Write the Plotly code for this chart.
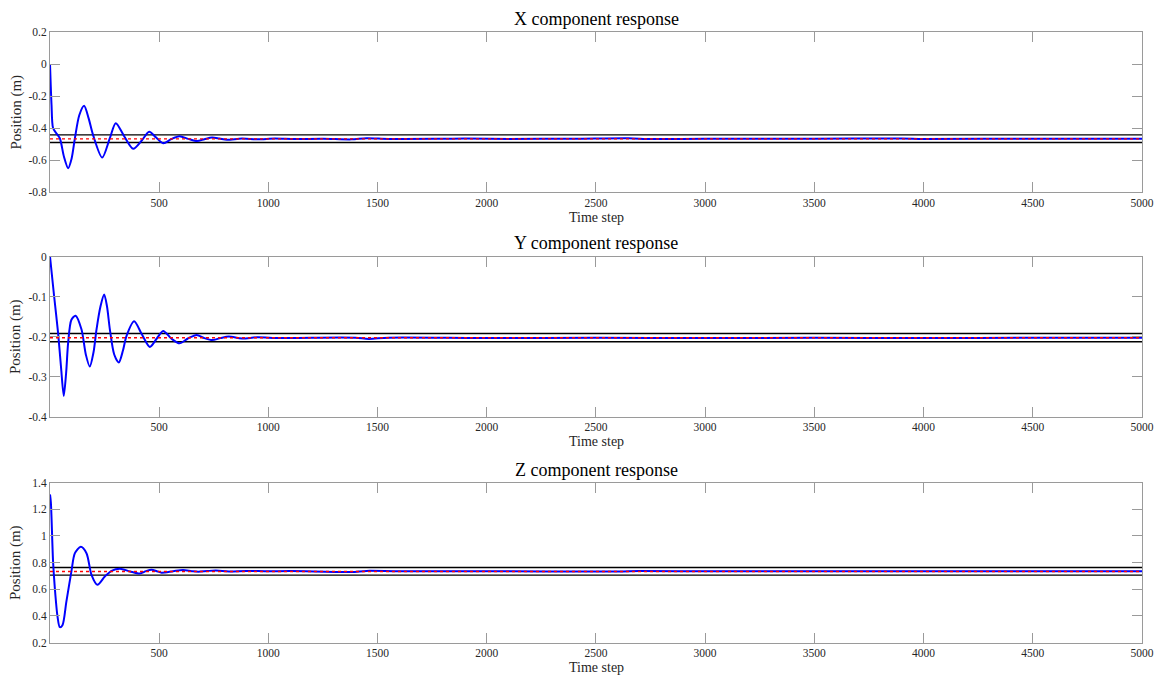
import plotly.graph_objects as go

# ---- response samples (time step, position in metres) ----
steps_x = [1, 4, 8, 15, 30, 46, 65, 84, 100, 115, 135, 157, 178, 198, 240, 275, 302, 340,
           382, 420, 455, 487, 519, 556, 593, 634, 674, 708, 743, 777, 811, 880, 950, 1030,
           1120, 1250, 1380, 1450, 1550, 1800, 1900, 2100, 2400, 2650, 2750, 3000, 3500,
           3900, 4000, 4500, 5000]
pos_x = [0.0, -0.12, -0.256, -0.40, -0.433, -0.464, -0.58, -0.651, -0.59, -0.464, -0.32,
         -0.261, -0.34, -0.443, -0.585, -0.464, -0.370, -0.45, -0.530, -0.48, -0.423, -0.46,
         -0.495, -0.47, -0.451, -0.468, -0.482, -0.470, -0.459, -0.466, -0.474, -0.465,
         -0.471, -0.466, -0.469, -0.467, -0.471, -0.464, -0.468, -0.467, -0.466, -0.468,
         -0.467, -0.464, -0.469, -0.467, -0.467, -0.465, -0.468, -0.467, -0.467]

steps_y = [1, 20, 38, 52, 64, 75, 84, 99, 118, 145, 165, 183, 200, 214, 232, 249, 262, 275,
           295, 316, 335, 351, 386, 422, 458, 490, 519, 556, 594, 632, 672, 708, 743, 781,
           819, 880, 950, 1050, 1200, 1400, 1460, 1550, 2000, 2500, 3000, 3500, 4000, 4500,
           5000]
pos_y = [0.0, -0.10, -0.191, -0.28, -0.3485, -0.29, -0.216, -0.158, -0.148, -0.182, -0.245,
         -0.275, -0.24, -0.182, -0.125, -0.095, -0.125, -0.182, -0.245, -0.265, -0.235,
         -0.199, -0.162, -0.195, -0.226, -0.205, -0.186, -0.205, -0.217, -0.205, -0.196,
         -0.204, -0.209, -0.204, -0.200, -0.205, -0.202, -0.204, -0.203, -0.203, -0.206,
         -0.203, -0.204, -0.203, -0.204, -0.203, -0.204, -0.203, -0.203]

steps_z = [1, 5, 15, 23, 35, 46, 58, 76, 99, 115, 142, 168, 191, 218, 252, 283, 321, 367,
           412, 440, 466, 490, 512, 565, 610, 650, 680, 720, 760, 820, 900, 1000, 1100, 1380,
           1450, 1600, 2000, 2600, 2700, 3000, 3500, 4000, 4500, 5000]
pos_z = [1.31, 1.25, 0.807, 0.61, 0.40, 0.315, 0.33, 0.507, 0.733, 0.87, 0.918, 0.87,
         0.708, 0.633, 0.695, 0.738, 0.754, 0.733, 0.717, 0.735, 0.746, 0.735, 0.724, 0.735,
         0.743, 0.735, 0.731, 0.736, 0.740, 0.733, 0.737, 0.734, 0.736, 0.729, 0.737, 0.734,
         0.735, 0.732, 0.736, 0.734, 0.735, 0.734, 0.735, 0.735]

# reference value and tolerance band for each component
reference = [-0.468, -0.203, 0.733]
band_upper = [-0.443, -0.1925, 0.762]
band_lower = [-0.491, -0.213, 0.705]

titles = ["X component response", "Y component response", "Z component response"]
x_range = [1, 5000]
x_tickvals = [500, 1000, 1500, 2000, 2500, 3000, 3500, 4000, 4500, 5000]
y_ranges = [[-0.8, 0.2], [-0.4, 0.0], [0.2, 1.4]]
y_tickvals = [
    [0.2, 0, -0.2, -0.4, -0.6, -0.8],
    [0, -0.1, -0.2, -0.3, -0.4],
    [1.4, 1.2, 1, 0.8, 0.6, 0.4, 0.2],
]
y_ticktext = [
    ["0.2", "0", "-0.2", "-0.4", "-0.6", "-0.8"],
    ["0", "-0.1", "-0.2", "-0.3", "-0.4"],
    ["1.4", "1.2", "1", "0.8", "0.6", "0.4", "0.2"],
]

W, H = 1159, 677
FONT = "Liberation Serif"
AXIS_GREY = "#9a9a9a"
TEXT = "#262626"

# panel boxes in pixels (top, bottom)
panels_px = [(32, 192), (256.5, 416.5), (482.5, 642.5)]
x_dom = [50 / W, 1142 / W]

series = [(steps_x, pos_x), (steps_y, pos_y), (steps_z, pos_z)]

fig = go.Figure()
layout = dict(
    width=W, height=H,
    margin=dict(l=0, r=0, t=0, b=0, pad=0),
    paper_bgcolor="white", plot_bgcolor="white",
    showlegend=False,
    font=dict(family=FONT, color=TEXT, size=11),
)
annotations = []

for i in range(3):
    n = "" if i == 0 else str(i + 1)
    xa, ya = "x" + n, "y" + n
    top, bot = panels_px[i]
    y_dom = [1 - bot / H, 1 - top / H]

    steps, pos = series[i]
    for level in (band_upper[i], band_lower[i]):
        fig.add_trace(go.Scatter(x=x_range, y=[level, level], mode="lines",
                                 line=dict(color="black", width=1.4),
                                 xaxis=xa, yaxis=ya, hoverinfo="skip"))
    fig.add_trace(go.Scatter(x=steps, y=pos, mode="lines",
                             line=dict(color="#0000ff", width=2.0, shape="spline",
                                       smoothing=0.8),
                             xaxis=xa, yaxis=ya))
    fig.add_trace(go.Scatter(x=x_range, y=[reference[i], reference[i]], mode="lines",
                             line=dict(color="#ff0000", width=1.4, dash="dot"),
                             xaxis=xa, yaxis=ya, hoverinfo="skip"))

    common = dict(
        automargin=False,
        ticks="inside", ticklen=10, tickcolor=AXIS_GREY, tickwidth=1,
        showline=True, linecolor=AXIS_GREY, linewidth=1, mirror="ticks",
        showgrid=False, zeroline=False,
        tickfont=dict(family=FONT, size=11.5, color=TEXT),
    )
    layout["xaxis" + n] = dict(
        domain=x_dom, range=x_range, anchor=ya,
        tickmode="array", tickvals=x_tickvals, **common,
    )
    layout["yaxis" + n] = dict(
        domain=y_dom, range=y_ranges[i], anchor=xa,
        tickmode="array", tickvals=y_tickvals[i], ticktext=y_ticktext[i], **common,
    )

    mid_x = (x_dom[0] + x_dom[1]) / 2
    annotations.append(dict(text=titles[i], x=mid_x, y=1 - (top - 13) / H,
                            xref="paper", yref="paper", showarrow=False,
                            xanchor="center", yanchor="middle",
                            font=dict(family=FONT, size=18, color="black")))
    annotations.append(dict(text="Time step", x=mid_x, y=1 - (bot + 25) / H,
                            xref="paper", yref="paper", showarrow=False,
                            xanchor="center", yanchor="middle",
                            font=dict(family=FONT, size=14, color=TEXT)))
    annotations.append(dict(text="Position (m)", x=15.5 / W, y=1 - (top + bot) / 2 / H,
                            xref="paper", yref="paper", showarrow=False, textangle=-90,
                            xanchor="center", yanchor="middle",
                            font=dict(family=FONT, size=15, color=TEXT)))

layout["annotations"] = annotations
fig.update_layout(**layout)
fig.write_html("out.html")
